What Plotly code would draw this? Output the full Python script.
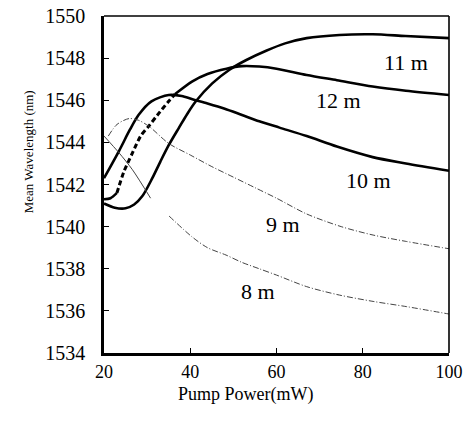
import plotly.graph_objects as go

# ---- data ----
x_10m = [20, 23.5, 26, 28, 31, 35, 38, 40.5, 44, 48, 52, 56, 60.7, 67, 74, 82.3, 90, 100]
y_10m = [1542.3, 1543.6, 1544.6, 1545.3, 1545.95, 1546.25, 1546.2, 1546.05, 1545.85, 1545.6, 1545.3, 1545.0, 1544.7, 1544.3, 1543.8, 1543.3, 1543.0, 1542.65]

x_12m_a = [20, 21.5, 23]
y_12m_a = [1541.3, 1541.35, 1541.6]
x_12m_dash = [23, 24.6, 26.6, 28.5, 30.5, 32.4, 35, 36.5]
y_12m_dash = [1541.6, 1542.6, 1543.5, 1544.3, 1544.8, 1545.3, 1545.95, 1546.3]
x_12m_b = [36.5, 40.5, 44, 48.4, 52, 56, 60, 67, 74, 82.3, 90, 100]
y_12m_b = [1546.3, 1546.9, 1547.25, 1547.5, 1547.62, 1547.6, 1547.5, 1547.2, 1546.95, 1546.65, 1546.45, 1546.25]

x_11m = [20, 22.5, 25, 27, 28.9, 31.2, 33.1, 35.1, 37.4, 39.3, 41.3, 45.1, 49.1, 52.9, 57.6, 62, 67, 74.6, 82.3, 89.9, 100]
y_11m = [1541.1, 1540.9, 1540.87, 1541.05, 1541.45, 1542.3, 1543.1, 1543.9, 1544.7, 1545.35, 1545.95, 1546.8, 1547.45, 1547.9, 1548.35, 1548.7, 1548.95, 1549.1, 1549.13, 1549.05, 1548.95]

x_9m = [21, 23, 25.8, 28, 30.5, 35, 40, 45, 50, 55, 60, 67, 75, 82.4, 90, 100]
y_9m = [1544.3, 1544.85, 1545.13, 1545.05, 1544.75, 1543.95, 1543.4, 1542.85, 1542.35, 1541.85, 1541.35, 1540.6, 1540.0, 1539.6, 1539.3, 1538.95]

x_8m_a = [20, 23.5, 26.6, 30.8]
y_8m_a = [1544.3, 1543.5, 1542.7, 1541.35]
x_8m_b = [35.1, 40.5, 44, 48.3, 52, 56, 60, 67, 74.6, 82.4, 90.2, 100]
y_8m_b = [1540.5, 1539.5, 1539.0, 1538.65, 1538.3, 1538.0, 1537.7, 1537.15, 1536.75, 1536.45, 1536.2, 1535.85]

curve_labels = ["11 m", "12 m", "10 m", "9 m", "8 m"]
label_x = [90.0, 74.3, 81.3, 61.5, 55.7]
label_y = [1547.8, 1546.0, 1542.2, 1540.1, 1536.94]

x_ticks = [20, 40, 60, 80, 100]
y_ticks = [1534, 1536, 1538, 1540, 1542, 1544, 1546, 1548, 1550]

FONT = "Liberation Serif"
THICK = dict(color="black", width=2.6, shape="spline", smoothing=0.8)
THIN = dict(color="#444", width=1, dash="6px,2px,1px,2px", shape="spline", smoothing=0.8)

fig = go.Figure()
fig.add_trace(go.Scatter(x=x_10m, y=y_10m, mode="lines", line=THICK))
fig.add_trace(go.Scatter(x=x_12m_a, y=y_12m_a, mode="lines", line=THICK))
fig.add_trace(go.Scatter(x=x_12m_dash, y=y_12m_dash, mode="lines",
                         line=dict(color="black", width=3, dash="5px,3px", shape="spline", smoothing=0.8)))
fig.add_trace(go.Scatter(x=x_12m_b, y=y_12m_b, mode="lines", line=THICK))
fig.add_trace(go.Scatter(x=x_11m, y=y_11m, mode="lines", line=THICK))
fig.add_trace(go.Scatter(x=x_9m, y=y_9m, mode="lines", line=THIN))
fig.add_trace(go.Scatter(x=x_8m_a, y=y_8m_a, mode="lines",
                         line=dict(color="#444", width=1, shape="spline", smoothing=0.8)))
fig.add_trace(go.Scatter(x=x_8m_b, y=y_8m_b, mode="lines", line=THIN))

for t, lx, ly in zip(curve_labels, label_x, label_y):
    fig.add_annotation(x=lx, y=ly, text=t, showarrow=False,
                       font=dict(family=FONT, size=22, color="black"))

fig.add_annotation(xref="paper", yref="paper", x=-0.22, y=0.596, text="Mean Wavelength (nm)",
                   textangle=-90, showarrow=False, xanchor="center", yanchor="middle",
                   font=dict(family=FONT, size=13, color="black"))
fig.add_annotation(xref="paper", yref="paper", x=0.409, y=0, yshift=-41, text="Pump Power(mW)",
                   showarrow=False, xanchor="center", yanchor="middle",
                   font=dict(family=FONT, size=18, color="black"))

# frame: top and right thinner
fig.add_shape(type="line", xref="paper", yref="paper", x0=0, x1=1, y0=1, y1=1,
              line=dict(color="black", width=1.6))
fig.add_shape(type="line", xref="paper", yref="paper", x0=1, x1=1, y0=0, y1=1,
              line=dict(color="black", width=1.6))

fig.update_layout(
    width=470, height=425,
    margin=dict(l=104, r=21, t=16, b=72, autoexpand=False),
    paper_bgcolor="white", plot_bgcolor="white",
    showlegend=False,
    font=dict(family=FONT, color="black"),
    xaxis=dict(range=[20, 100], tickvals=x_ticks, ticks="inside", ticklen=5, tickcolor="black",
               showline=True, linecolor="black", linewidth=2.6, showgrid=False, zeroline=False,
               tickfont=dict(family=FONT, size=18), ticklabelstandoff=1, ticklabeloverflow="allow",
               automargin=False),
    yaxis=dict(range=[1534, 1550], tickvals=y_ticks, ticks="inside", ticklen=5, tickcolor="black",
               showline=True, linecolor="black", linewidth=2.6, showgrid=False, zeroline=False,
               tickfont=dict(family=FONT, size=20), ticklabelstandoff=12, ticklabeloverflow="allow",
               automargin=False),
)

fig.write_html("out.html", config={"displayModeBar": False},
               post_script="document.body.style.margin='0';")
